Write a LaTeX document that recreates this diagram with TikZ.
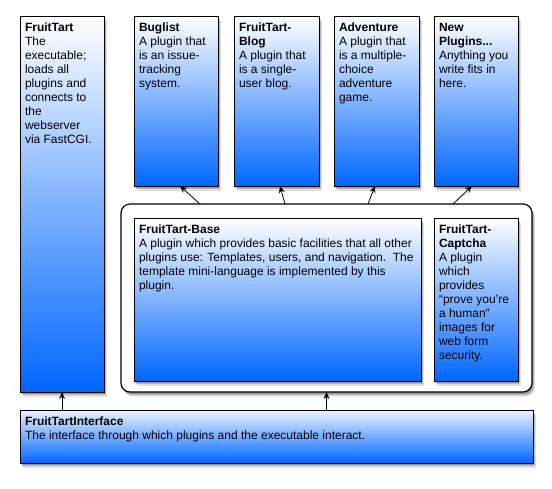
\documentclass[tikz,border=0pt]{standalone}
\usepackage{fontspec}
\setmainfont{Liberation Sans}
\usetikzlibrary{shadows,arrows.meta}
\definecolor{plugblue}{RGB}{0,102,255}
\tikzset{
  shad/.style={
    drop shadow={shadow xshift=1pt, shadow yshift=-2pt, opacity=0.18, fill=black},
    drop shadow={shadow xshift=2pt, shadow yshift=-3pt, opacity=0.18, fill=black},
    drop shadow={shadow xshift=3pt, shadow yshift=-4.5pt, opacity=0.12, fill=black}},
  plug/.style={draw=black, line width=1pt, top color=white, bottom color=plugblue,
    anchor=north west, inner xsep=5pt, inner ysep=7pt, outer sep=0pt, shad,
    font=\fontsize{12}{14}\selectfont},
  platform/.style={draw=black, line width=1.2pt, rounded corners=9pt, fill=white,
    anchor=north west, inner sep=0pt, outer sep=0pt, shad},
  conn/.style={-{Stealth[length=7pt,width=6pt]}, line width=0.8pt},
}
\newcommand\boxtxt[4]{\parbox[t][\dimexpr#2pt-14pt\relax][t]{\dimexpr#1pt-10pt\relax}{\raggedright\textbf{#3}\\#4}}
\begin{document}
\begin{tikzpicture}[x=1pt,y=-1pt]
\useasboundingbox (0,0) rectangle (552,488);
\node[plug] (ft) at (20,16) {\boxtxt{84}{376}{FruitTart}{The\\executable;\\loads all\\plugins and\\connects to\\the\\webserver\\via FastCGI.}};
\node[plug] (bug) at (134,16) {\boxtxt{84}{170}{Buglist}{A plugin that\\is an issue-\\tracking\\system.}};
\node[plug] (blog) at (234,16) {\boxtxt{85}{170}{FruitTart-\\Blog}{A plugin that\\is a single-\\user blog.}};
\node[plug] (adv) at (334,16) {\boxtxt{85}{170}{Adventure}{A plugin that\\is a multiple-\\choice\\adventure\\game.}};
\node[plug] (new) at (434,16) {\boxtxt{84}{170}{New\\Plugins...}{Anything you\\write fits in\\here.}};
\node[platform, minimum width=411pt, minimum height=188pt] (plat) at (121,204) {};
\node[plug] (base) at (134,218) {\boxtxt{287}{163}{FruitTart-Base}{A plugin which provides basic facilities that all other\\plugins use: Templates, users, and navigation.\ \ The\\template mini-language is implemented by this\\plugin.}};
\node[plug] (cap) at (434,218) {\boxtxt{84}{163}{FruitTart-\\Captcha}{A plugin\\which\\provides\\“prove you're\\a human\char"22\\images for\\web form\\security.}};
\node[plug, top color=plugblue!8!white] (iface) at (20,410) {\boxtxt{513}{53}{FruitTartInterface}{The interface through which plugins and the executable interact.}};
\draw[conn] ([xshift=79pt]plat.north west) -- ([xshift=46pt]bug.south west);
\draw[conn] ([xshift=164pt]plat.north west) -- ([xshift=46pt]blog.south west);
\draw[conn] ([xshift=247pt]plat.north west) -- ([xshift=41pt]adv.south west);
\draw[conn] ([xshift=332pt]plat.north west) -- ([xshift=38pt]new.south west);
\draw[conn] (ft.south |- iface.north) -- (ft.south);
\draw[conn] (plat.south |- iface.north) -- (plat.south);
\end{tikzpicture}
\end{document}
